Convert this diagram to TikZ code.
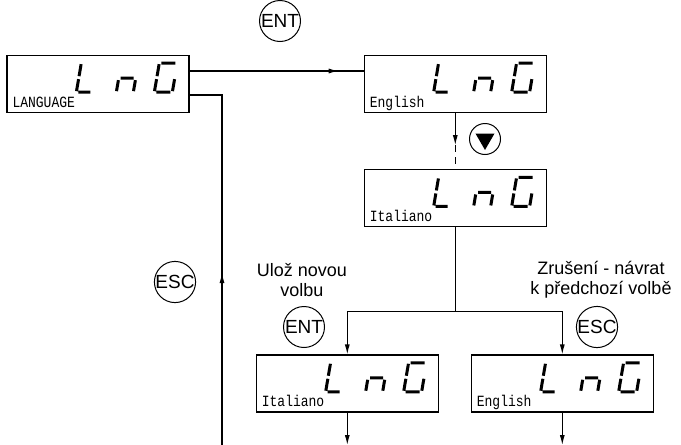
\documentclass[tikz,border=0pt]{standalone}
\usepackage{fontspec}
\setmainfont{Liberation Sans}
\newfontfamily\lcdfont{Liberation Mono}
\usetikzlibrary{
  arrows.meta,
  positioning,
  shapes.geometric,
  decorations.markings
}
\newcommand{\lcdtext}[1]{\scalebox{1}[1.2]{#1}}
\tikzset{
  lcdbox/.style={
    draw,
    line width=1.3pt,
    minimum width=182pt,
    minimum height=57pt,
    inner sep=0pt
  },
  lcdlabel/.style={anchor=base west,inner sep=0pt,font=\lcdfont\fontsize{13}{13}\selectfont},
  keybtn/.style={
    circle,
    draw,
    line width=1pt,
    minimum size=41pt,
    inner sep=0pt,
    font=\fontsize{19}{19}\selectfont
  },
  hint/.style={align=center,font=\fontsize{18}{20}\selectfont},
  flowline/.style={line width=1.1pt},
  flowarrow/.style={flowline,-{Latex[length=10pt,width=5pt]}},
  midarrow/.style={
    flowline,
    decoration={markings,mark=at position #1 with {\arrow{Latex[length=10pt,width=5pt]}}},
    postaction={decorate}
  },
  seg/.style={line width=3pt},
  pics/lnG/.style={code={
    \begin{scope}[xslant=0.17]
      % L
      \draw[seg] (0pt,16pt) -- (0pt,28pt) (0pt,1pt) -- (0pt,13pt) (2pt,0pt) -- (14pt,0pt);
      % n
      \draw[seg] (40pt,1pt) -- (40pt,12pt) (42pt,14pt) -- (55pt,14pt) (57pt,1pt) -- (57pt,12pt);
      % G
      \draw[seg] (80pt,29pt) -- (94pt,29pt) (78pt,16pt) -- (78pt,28pt) (78pt,1pt) -- (78pt,13pt)
        (80pt,0pt) -- (94pt,0pt) (96pt,1pt) -- (96pt,13pt);
    \end{scope}
  }}
}
\begin{document}
\begin{tikzpicture}[x=1pt,y=-1pt]
  \useasboundingbox (0,0) rectangle (681,445);

  \node[lcdbox] (lang) at (98,84) {};
  \node[lcdbox,right=174pt of lang] (english) {};
  \node[lcdbox,below=56pt of english] (italiano) {};
  \node[lcdbox,below=127pt of italiano,xshift=-108pt] (keepit) {};
  \node[lcdbox,below=127pt of italiano,xshift=107pt] (backeng) {};

  \pic at ([shift={(70pt,21pt)}]lang.south west) {lnG};
  \pic at ([shift={(70pt,21pt)}]english.south west) {lnG};
  \pic at ([shift={(70pt,21pt)}]italiano.south west) {lnG};
  \pic at ([shift={(70pt,21pt)}]keepit.south west) {lnG};
  \pic at ([shift={(70pt,21pt)}]backeng.south west) {lnG};

  \node[lcdlabel,font=\lcdfont\fontsize{13}{13}\selectfont] (langtxt) at ([shift={(6pt,6pt)}]lang.south west) {\lcdtext{LANGUAGE}};
  \node[lcdlabel] (engtxt) at ([shift={(6pt,6pt)}]english.south west) {\lcdtext{English}};
  \node[lcdlabel] (ittxt) at ([shift={(6pt,6pt)}]italiano.south west) {\lcdtext{Italiano}};
  \node[lcdlabel] (keeptxt) at ([shift={(6pt,6pt)}]keepit.south west) {\lcdtext{Italiano}};
  \node[lcdlabel] (backtxt) at ([shift={(6pt,6pt)}]backeng.south west) {\lcdtext{English}};

  \node[keybtn] (entkey) at (280,21) {ENT};
  \node[keybtn,minimum size=31pt] (downkey) at (485,139) {};
  \node[regular polygon,regular polygon sides=3,shape border rotate=180,fill,inner sep=0pt,minimum size=22pt] (downtri) at (downkey) {};
  \node[keybtn] (esckey) at (175,282) {ESC};
  \node[keybtn] (entsave) at (304,327) {ENT};
  \node[keybtn] (escback) at (597,327) {ESC};

  \node[hint] (savehint) at (302,280) {Ulož novou\\volbu};
  \node[hint] (backhint) at (601,280) {Zrušení - návrat\\k předchozí volbě};

  \coordinate (retbot) at (222,445);
  \coordinate (downtip) at ([yshift=-32pt]english.south);
  \coordinate (split) at ([yshift=-84pt]italiano.south);
  \coordinate (keepout) at (keepit.south |- retbot);
  \coordinate (backout) at (backeng.south |- retbot);

  \draw[midarrow=149pt] ([yshift=13pt]lang.east) -- ([yshift=13pt]english.west);
  \draw[midarrow=172pt] (retbot) |- ([yshift=-11pt]lang.east);
  \draw[flowarrow] (english.south) -- (downtip);
  \draw[flowline,dash pattern=on 7pt off 5pt] (downtip) -- (italiano.north);
  \draw[flowline] (italiano.south) -- (split);
  \draw[flowarrow] (split) -| (keepit.north);
  \draw[flowarrow] (split) -| (backeng.north);
  \draw[flowarrow] (keepit.south) -- (keepout);
  \draw[flowarrow] (backeng.south) -- (backout);
\end{tikzpicture}
\end{document}
